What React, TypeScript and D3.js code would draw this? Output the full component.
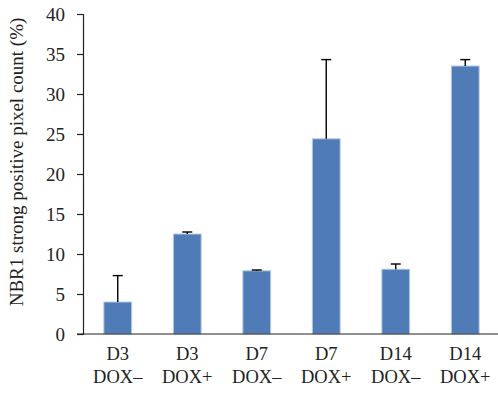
import React, { useEffect, useRef } from "react";
import * as d3 from "d3";

const days = ["D3", "D3", "D7", "D7", "D14", "D14"];
const dox = ["DOX\u2013", "DOX+", "DOX\u2013", "DOX+", "DOX\u2013", "DOX+"];
const means = [4.0, 12.5, 7.9, 24.4, 8.1, 33.5];
const errTops = [7.3, 12.75, 8.0, 34.3, 8.75, 34.3];
const yTicks = [0, 5, 10, 15, 20, 25, 30, 35, 40];

export default function App() {
  const ref = useRef<SVGSVGElement | null>(null);

  useEffect(() => {
    drawChart();
  }, []);

  function drawChart() {
    const width = 498;
    const height = 395;
    const margin = { top: 14, right: 0, bottom: 61, left: 83 };
    const font = "'Liberation Serif', 'Times New Roman', serif";

    const svg = d3.select(ref.current);
    svg.selectAll("*").remove();

    const idx = means.map((_, i) => String(i));
    const x = d3
      .scaleBand()
      .domain(idx)
      .range([margin.left, width - margin.right + 2])
      .paddingInner(0.6)
      .paddingOuter(0.3);

    const y = d3
      .scaleLinear()
      .domain([0, 40])
      .range([height - margin.bottom, margin.top]);

    // bars
    svg
      .append("g")
      .selectAll("rect")
      .data(means)
      .join("rect")
      .attr("x", (_, i) => x(String(i))!)
      .attr("y", (d) => y(d))
      .attr("width", x.bandwidth())
      .attr("height", (d) => y(0) - y(d))
      .attr("fill", "#4f7bb6")
      .attr("stroke", "#b4cbe8")
      .attr("stroke-width", 1);

    // error bars
    const err = svg
      .append("g")
      .attr("stroke", "#000")
      .attr("stroke-width", 1.4)
      .selectAll("g")
      .data(means)
      .join("g");
    err
      .append("line")
      .attr("x1", (_, i) => x(String(i))! + x.bandwidth() / 2)
      .attr("x2", (_, i) => x(String(i))! + x.bandwidth() / 2)
      .attr("y1", (d) => y(d))
      .attr("y2", (_, i) => y(errTops[i]));
    err
      .append("line")
      .attr("x1", (_, i) => x(String(i))! + x.bandwidth() / 2 - 5)
      .attr("x2", (_, i) => x(String(i))! + x.bandwidth() / 2 + 5)
      .attr("y1", (_, i) => y(errTops[i]))
      .attr("y2", (_, i) => y(errTops[i]));

    // y axis
    const yAxis = svg
      .append("g")
      .attr("transform", `translate(${margin.left},0)`)
      .call(
        d3
          .axisLeft(y)
          .tickValues(yTicks)
          .tickSize(6)
          .tickPadding(12)
          .tickFormat(d3.format("d"))
      );
    yAxis.select(".domain").attr("stroke", "#222").attr("stroke-width", 1.2);
    yAxis.selectAll(".tick line").attr("stroke", "#222").attr("stroke-width", 1.2);
    yAxis
      .selectAll(".tick text")
      .attr("font-family", font)
      .attr("font-size", 19)
      .attr("fill", "#222");

    // x axis line
    svg
      .append("line")
      .attr("x1", margin.left - 6)
      .attr("x2", width)
      .attr("y1", y(0))
      .attr("y2", y(0))
      .attr("stroke", "#222")
      .attr("stroke-width", 1.2);

    // x labels
    const lab = svg
      .append("g")
      .attr("font-family", font)
      .attr("font-size", 18.5)
      .attr("fill", "#222")
      .attr("text-anchor", "middle")
      .selectAll("g")
      .data(days)
      .join("g")
      .attr(
        "transform",
        (_, i) => `translate(${x(String(i))! + x.bandwidth() / 2},0)`
      );
    lab
      .append("text")
      .attr("y", 360)
      .text((d) => d);
    lab
      .append("text")
      .attr("y", 383)
      .text((_, i) => dox[i]);

    // y title
    svg
      .append("text")
      .attr("transform", `translate(23,${(y(0) + y(40)) / 2 - 12}) rotate(-90)`)
      .attr("text-anchor", "middle")
      .attr("font-family", font)
      .attr("font-size", 19)
      .attr("fill", "#222")
      .text("NBR1 strong positive pixel count (%)");
  }

  return (
    <div>
      <svg
        ref={ref}
        width={498}
        height={395}
        style={{ position: "absolute", left: 0, top: 0, background: "#fff" }}
      />
    </div>
  );
}
